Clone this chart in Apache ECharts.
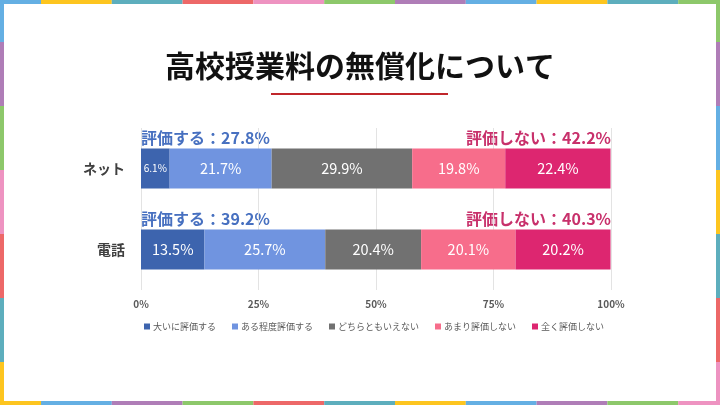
<!DOCTYPE html>
<html><head><meta charset="utf-8">
<script src="https://cdn.jsdelivr.net/npm/echarts@6/dist/echarts.min.js"></script>
<style>html,body{margin:0;padding:0;background:#fff}#c{width:720px;height:405px}</style>
</head><body><div id="c"></div>
<script>
const categories = ['ネット', '電話'];
const seriesNames = ['大いに評価する', 'ある程度評価する', 'どちらともいえない', 'あまり評価しない', '全く評価しない'];
const v1 = [6.1, 13.5];
const v2 = [21.7, 25.7];
const v3 = [29.9, 20.4];
const v4 = [19.8, 20.1];
const v5 = [22.4, 20.2];
const xTicks = [0, 25, 50, 75, 100];

const barColors = ['#3D64AE', '#7094E0', '#717171', '#F76D8B', '#DD2670'];
const topColors = ['#64AFE3','#FDC51F','#5DAEBD','#ED6868','#EE93C1','#8DC86B','#AF7DB7','#64AFE3','#FDC51F','#5DAEBD','#8DC86B'];
const bottomColors = ['#FDC51F','#64AFE3','#AF7DB7','#8DC86B','#ED6868','#5DAEBD','#FDC51F','#64AFE3','#AF7DB7','#8DC86B','#EE93C1'];
const leftColors = ['#64AFE3','#AF7DB7','#8DC86B','#EE93C1','#ED6868','#5DAEBD','#FDC51F'];
const rightColors = ['#8DC86B','#AF7DB7','#64AFE3','#FDC51F','#5DAEBD','#ED6868','#EE93C1'];

const values = [v1, v2, v3, v4, v5];
const font = '"Noto Sans CJK JP","Noto Sans",sans-serif';

function borderGraphics() {
  const g = [];
  const W = 720, H = 405, t = 4;
  const seg = 70.8, off = -29.8;
  topColors.forEach((c, i) => {
    const x0 = Math.max(0, off + i * seg), x1 = Math.min(W, off + (i + 1) * seg);
    g.push({type:'rect', shape:{x:x0, y:0, width:x1 - x0, height:t}, style:{fill:c}, silent:true});
  });
  bottomColors.forEach((c, i) => {
    const x0 = Math.max(0, off + i * seg), x1 = Math.min(W, off + (i + 1) * seg);
    g.push({type:'rect', shape:{x:x0, y:H - t, width:x1 - x0, height:t}, style:{fill:c}, silent:true});
  });
  const vseg = 64, voff = -22;
  leftColors.forEach((c, i) => {
    const y0 = Math.max(0, voff + i * vseg), y1 = Math.min(H, voff + (i + 1) * vseg);
    g.push({type:'rect', shape:{x:0, y:y0, width:t, height:y1 - y0}, style:{fill:c}, silent:true});
  });
  rightColors.forEach((c, i) => {
    const y0 = Math.max(0, voff + i * vseg), y1 = Math.min(H, voff + (i + 1) * vseg);
    g.push({type:'rect', shape:{x:W - t, y:y0, width:t, height:y1 - y0}, style:{fill:c}, silent:true});
  });
  return g;
}

const chart = echarts.init(document.getElementById('c'));
const option = {
  backgroundColor: '#fff',
  animation: false,
  textStyle: { fontFamily: font },
  title: {
    text: '高校授業料の無償化について',
    left: 'center', top: 46,
    textStyle: { fontSize: 30, fontWeight: 'bold', color: '#111', fontFamily: font }
  },
  legend: {
    bottom: 69, left: 139,
    itemWidth: 6, itemHeight: 6, itemGap: 16,
    icon: 'rect',
    textStyle: { fontSize: 9, color: '#595959', fontFamily: font, padding: [0, 0, 0, -2] },
    data: seriesNames
  },
  grid: { left: 141, right: 109, top: 128, bottom: 115, containLabel: false },
  xAxis: {
    type: 'value', min: 0, max: 100, interval: 25,
    axisLabel: { formatter: v => v + '%', color: '#595959', fontSize: 10, fontWeight: 'bold', margin: 9 },
    splitLine: { lineStyle: { color: '#E3E3E3' } },
    axisLine: { show: false }, axisTick: { show: false }
  },
  yAxis: {
    type: 'category', data: categories, inverse: true,
    axisLine: { show: false }, axisTick: { show: false },
    axisLabel: { color: '#404040', fontSize: 14, fontWeight: 'bold', margin: 16 }
  },
  series: seriesNames.map((n, i) => ({
    name: n, type: 'bar', stack: 'total', barWidth: 40,
    data: values[i],
    itemStyle: { color: barColors[i] },
    label: {
      show: true, position: 'inside', color: '#fff',
      fontFamily: font,
      formatter: p => p.value + '%',
      fontSize: 14.5
    }
  })),
  graphic: borderGraphics()
};
// smaller label for narrow segment
option.series[0].data = v1.map(v => v < 8 ? { value: v, label: { fontSize: 10 } } : v);
chart.setOption(option);

// annotations computed through the axis scales
const extra = [];
categories.forEach((c, ci) => {
  const pos = v1[ci] + v2[ci];
  const neg = v4[ci] + v5[ci];
  const pLeft = chart.convertToPixel({ gridIndex: 0 }, [0, ci]);
  const pRight = chart.convertToPixel({ gridIndex: 0 }, [100, ci]);
  extra.push({
    type: 'text', x: pLeft[0], y: pLeft[1] - 31,
    style: { text: '評価する：' + pos.toFixed(1) + '%', fill: '#4770C0', font: 'bold 16px ' + font, textAlign: 'left', textVerticalAlign: 'middle' }
  });
  extra.push({
    type: 'text', x: pRight[0], y: pRight[1] - 31,
    style: { text: '評価しない：' + neg.toFixed(1) + '%', fill: '#C8306B', font: 'bold 16px ' + font, textAlign: 'right', textVerticalAlign: 'middle' }
  });
});
extra.push({ type: 'rect', shape: { x: 271, y: 93, width: 177, height: 2 }, style: { fill: '#C0262B' } });
chart.setOption({ graphic: borderGraphics().concat(extra) });
</script></body></html>
